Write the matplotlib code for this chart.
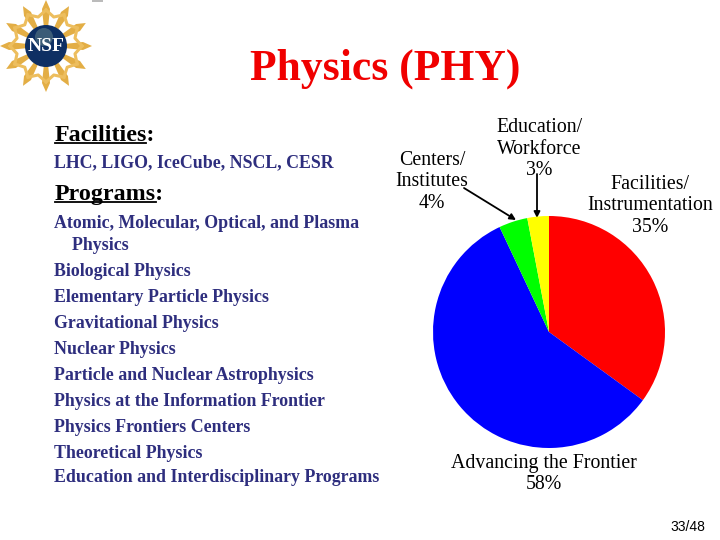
import numpy as np
import matplotlib
matplotlib.use("Agg")
import matplotlib.pyplot as plt
from matplotlib.patches import Circle, Polygon, Rectangle

plt.rcParams['font.family'] = ['Liberation Serif', 'DejaVu Serif']

W, H = 720, 540
title = "Physics (PHY)"
categories = ["Facilities/\nInstrumentation\n35%", "Advancing the Frontier\n58%",
              "Centers/\nInstitutes\n4%", "Education/\nWorkforce\n3%"]
values = [35, 58, 4, 3]
colors = ["#FF0000", "#0000FF", "#00FF00", "#FFFF00"]
facilities = "LHC, LIGO, IceCube, NSCL, CESR"
programs = ["Atomic, Molecular, Optical, and Plasma", "    Physics", "Biological Physics",
            "Elementary Particle Physics", "Gravitational Physics", "Nuclear Physics",
            "Particle and Nuclear Astrophysics", "Physics at the Information Frontier",
            "Physics Frontiers Centers", "Theoretical Physics",
            "Education and Interdisciplinary Programs"]
program_y = [222, 243, 269, 295, 321, 347, 373, 399, 425, 451, 476]
navy = "#2E2E7E"

fig = plt.figure(figsize=(7.2, 5.4), dpi=100, facecolor="white")
bg = fig.add_axes([0, 0, 1, 1])
bg.set_xlim(0, W); bg.set_ylim(H, 0); bg.axis("off")

# Pie
c = (549, 332); r = 116
pie_ax = fig.add_axes([(c[0]-r)/W, 1-(c[1]+r)/H, 2*r/W, 2*r/H])
pie_ax.pie(values, colors=colors, startangle=90, counterclock=False, radius=1.0,
           wedgeprops=dict(linewidth=0))
pie_ax.set_xlim(-1, 1); pie_ax.set_ylim(-1, 1)

# NSF logo
cx, cy = 46, 46
p = np.array([cx, cy])
for k in range(12):
    a = 2*np.pi*k/12 + np.pi/2
    u = np.array([np.cos(a), np.sin(a)]); v = np.array([-u[1], u[0]])
    bg.add_patch(Polygon([p+u*46, p+u*37+v*4, p+u*18+v*2, p+u*18-v*2, p+u*37-v*4],
                         fc="#E3AE45", ec="none"))
    b = a + np.pi/12
    u2 = np.array([np.cos(b), np.sin(b)])
    e = np.array([np.cos(a+np.pi/6), np.sin(a+np.pi/6)])
    bg.plot([cx+u[0]*36, cx+u2[0]*30, cx+e[0]*36], [cy+u[1]*36, cy+u2[1]*30, cy+e[1]*36],
            color="#EDBE5E", lw=2.2)
bg.add_patch(Circle((cx, cy), 21, fc="#0E2F63", ec="none"))
bg.add_patch(Circle((cx-2, cy-9), 9, fc="#4F6F80", ec="none", alpha=.7))
bg.text(cx, cy+0.5, "NSF", color="white", fontsize=14, fontweight="bold", ha="center", va="center")
bg.add_patch(Rectangle((92, 0), 11, 1.5, fc="#BBBBBB", ec="none"))

# Title
bg.text(385, 69, title, color="#F00000", fontsize=31.4, fontweight="bold", ha="center", va="center")

# Left text
for label, y, x1 in [("Facilities", 133, 146), ("Programs", 192, 156)]:
    t = bg.text(55, y, label + ":", fontsize=17.3, color="black", ha="left",
                va="center_baseline", fontweight="bold")
    bg.plot([55, x1], [y+9.5, y+9.5], color="black", lw=1.3)
bg.text(54, 161, facilities, fontsize=12.9, color=navy, ha="left", va="center_baseline", fontweight="bold")
for s, y in zip(programs, program_y):
    bg.text(54, y, s, fontsize=12.9, color=navy, ha="left", va="center_baseline", fontweight="bold")

# Pie labels
labs = [(650, 206), (544, 474), (432, 182), (539, 149)]
for s, (x, y) in zip(categories, labs):
    bg.text(x, y, s, fontsize=14.3, color="black", ha="center", va="center", linespacing=1.15)

# Arrows
arrow = dict(arrowstyle="-|>", color="black", lw=1.3, mutation_scale=9, shrinkA=0, shrinkB=0)
bg.annotate("", xy=(516, 220), xytext=(464, 188), arrowprops=arrow)
bg.annotate("", xy=(537, 218), xytext=(537, 174), arrowprops=arrow)

# Page number
bg.text(705, 527, "33/48", fontsize=10, family="Liberation Sans", color="black", ha="right", va="center")

fig.savefig("out.png", dpi=100, facecolor="white")
